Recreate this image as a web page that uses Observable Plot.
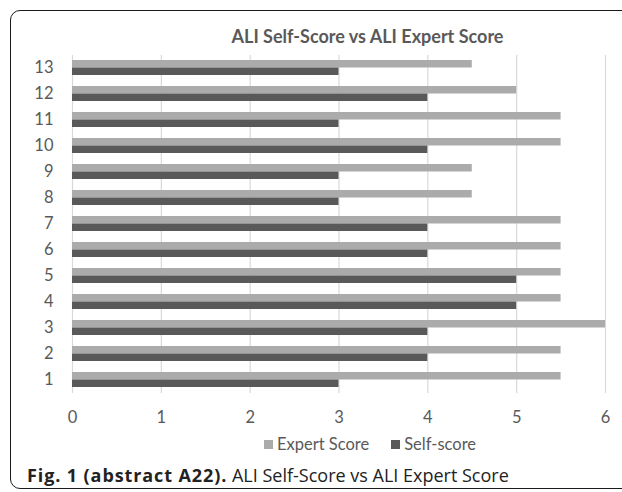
<!DOCTYPE html>
<html>
<head>
<meta charset="utf-8">
<script src="https://cdn.jsdelivr.net/npm/d3@7"></script>
<script src="https://cdn.jsdelivr.net/npm/@observablehq/plot@0.6"></script>
<style>
  html, body { margin: 0; padding: 0; background: #fff; overflow: hidden; }
  #page { position: relative; width: 622px; height: 492px; overflow: hidden; }
  #frame {
    position: absolute; left: 10px; top: 10px; width: 900px; height: 479px;
    border: 1.5px solid #1a1a1a; border-radius: 10px; box-sizing: border-box;
  }
  #chart { position: absolute; left: 0; top: 0; }
  #title {
    position: absolute; top: 25px; left: 0; width: 735px; text-align: center;
    font: bold 18px Lato, "Open Sans", sans-serif; color: #595959;
  }
  #legend {
    position: absolute; top: 434px; left: 264px; display: flex; align-items: center;
    font: 16.5px Lato, "Open Sans", sans-serif; color: #595959; white-space: nowrap;
  }
  #legend .sw { display: inline-block; width: 9px; height: 9px; margin-right: 4px; }
  #legend .item { display: flex; align-items: center; margin-right: 22px; }
  #caption {
    position: absolute; top: 463px; left: 27px; white-space: nowrap;
    font: 18px "Open Sans", sans-serif; color: #222;
  }
  #caption b { letter-spacing: 0.9px; }
</style>
</head>
<body>
<div id="page">
  <div id="frame"></div>
  <div id="chart"></div>
  <div id="title">ALI Self-Score vs ALI Expert Score</div>
  <div id="legend"></div>
  <div id="caption"><b>Fig. 1 (abstract A22).</b> ALI Self-Score vs ALI Expert Score</div>
</div>
<script>
// Item numbers on the vertical axis
const categories = ["1", "2", "3", "4", "5", "6", "7", "8", "9", "10", "11", "12", "13"];
// Scores per item
const expertScore = [5.5, 5.5, 6, 5.5, 5.5, 5.5, 5.5, 4.5, 4.5, 5.5, 5.5, 5, 4.5];
const selfScore   = [3, 4, 4, 5, 5, 4, 4, 3, 3, 4, 3, 4, 3];
// Tick values on the score axis
const xTicks = [0, 1, 2, 3, 4, 5, 6];

const seriesNames = ["Expert Score", "Self-score"];
const seriesColors = ["#ababab", "#595959"];

const expertRows = categories.map((c, i) => ({item: c, value: expertScore[i]}));
const selfRows = categories.map((c, i) => ({item: c, value: selfScore[i]}));

const half = 7.5;

const chart = Plot.plot({
  width: 622,
  height: 433,
  marginTop: 55,
  marginBottom: 40,
  marginLeft: 72,
  marginRight: 17,
  style: {fontFamily: "Lato, 'Open Sans', sans-serif", fontSize: "16.5px", color: "#595959", background: "transparent"},
  x: {domain: [0, 6], ticks: xTicks},
  y: {domain: categories.slice().reverse(), paddingInner: 0.42, paddingOuter: 0.21},
  marks: [
    Plot.gridX(xTicks, {stroke: "#d9d9d9", strokeOpacity: 1, strokeWidth: 1.2}),
    Plot.barX(expertRows, {x: "value", y: "item", fill: seriesColors[0], insetBottom: half}),
    Plot.barX(selfRows, {x: "value", y: "item", fill: seriesColors[1], insetTop: half}),
    Plot.axisX(xTicks, {tickSize: 0, tickPadding: 18, label: null, fill: "#595959", tickFormat: d => String(d)}),
    Plot.axisY({tickSize: 0, tickPadding: 19, label: null, fill: "#595959"})
  ]
});
document.getElementById("chart").appendChild(chart);

const legend = document.getElementById("legend");
seriesNames.forEach((name, i) => {
  const item = document.createElement("span");
  item.className = "item";
  const sw = document.createElement("span");
  sw.className = "sw";
  sw.style.background = seriesColors[i];
  item.appendChild(sw);
  item.appendChild(document.createTextNode(name));
  legend.appendChild(item);
});
</script>
</body>
</html>
